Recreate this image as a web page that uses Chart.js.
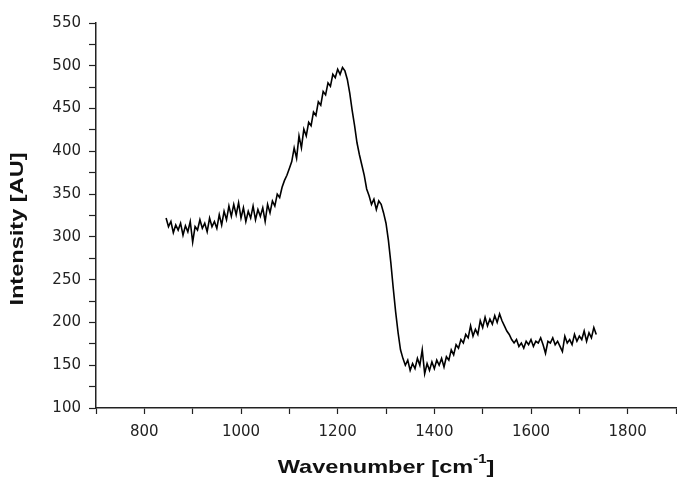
<!DOCTYPE html>
<html>
<head>
<meta charset="utf-8">
<script src="https://cdn.jsdelivr.net/npm/chart.js@4"></script>
<style>
  body { margin: 0; background: #fff; }
  #wrap { width: 677px; height: 484px; }
</style>
</head>
<body>
<div id="wrap"><canvas id="spectrum" width="677" height="484"></canvas></div>
<script>
// wavenumbers in cm-1
const wavenumbers = [
  845, 850, 855, 860, 865, 870, 875, 880, 885, 890, 895, 900, 905, 910, 915, 920, 925, 930, 935, 940,
  945, 950, 955, 960, 965, 970, 975, 980, 985, 990, 995, 1000, 1005, 1010, 1015, 1020, 1025, 1030, 1035, 1040,
  1045, 1050, 1055, 1060, 1065, 1070, 1075, 1080, 1085, 1090, 1095, 1100, 1105, 1110, 1115, 1120, 1125, 1130, 1135, 1140,
  1145, 1150, 1155, 1160, 1165, 1170, 1175, 1180, 1185, 1190, 1195, 1200, 1205, 1210, 1215, 1220, 1225, 1230, 1235, 1240,
  1245, 1250, 1255, 1260, 1265, 1270, 1275, 1280, 1285, 1290, 1295, 1300, 1305, 1310, 1315, 1320, 1325, 1330, 1335, 1340,
  1345, 1350, 1355, 1360, 1365, 1370, 1375, 1380, 1385, 1390, 1395, 1400, 1405, 1410, 1415, 1420, 1425, 1430, 1435, 1440,
  1445, 1450, 1455, 1460, 1465, 1470, 1475, 1480, 1485, 1490, 1495, 1500, 1505, 1510, 1515, 1520, 1525, 1530, 1535, 1540,
  1545, 1550, 1555, 1560, 1565, 1570, 1575, 1580, 1585, 1590, 1595, 1600, 1605, 1610, 1615, 1620, 1625, 1630, 1635, 1640,
  1645, 1650, 1655, 1660, 1665, 1670, 1675, 1680, 1685, 1690, 1695, 1700, 1705, 1710, 1715, 1720, 1725, 1730, 1735
];

// intensity [AU]
const intensity = [
  322, 312, 318, 305, 314, 308, 316, 302, 313, 306, 318, 294, 312, 308, 320, 310, 316, 306, 322, 312,
  318, 310, 326, 314, 330, 320, 336, 324, 338, 326, 340, 322, 334, 318, 330, 322, 336, 320, 332, 324,
  334, 318, 338, 328, 342, 336, 350, 346, 358, 366, 372, 380, 388, 404, 392, 418, 404, 426, 418, 434,
  430, 446, 442, 458, 454, 470, 466, 480, 476, 490, 486, 496, 490, 498, 494, 484, 468, 448, 430, 410,
  396, 384, 372, 356, 348, 338, 344, 332, 342, 338, 328, 316, 296, 270, 240, 212, 188, 168, 158, 150,
  156, 144, 152, 146, 158, 150, 168, 140, 152, 144, 154, 146, 156, 150, 158, 148, 160, 156, 168, 162,
  174, 170, 180, 176, 186, 182, 196, 184, 192, 186, 202, 194, 206, 196, 204, 198, 208, 200, 210, 202,
  196, 190, 186, 180, 176, 180, 172, 176, 170, 178, 174, 180, 172, 178, 176, 182, 174, 164, 178, 176,
  182, 174, 178, 172, 166, 184, 176, 180, 174, 186, 178, 184, 180, 190, 178, 188, 182, 194, 186
];

const xMin = 700, xMax = 1900, xMinorStep = 100, xLabelStep = 200;
const yMin = 100, yMax = 550, yMinorStep = 25, yLabelStep = 50;

const xTitle = 'Wavenumber [cm';
const xTitleSup = '-1';
const yTitle = 'Intensity [AU]';

const tickFont = { family: 'DejaVu Sans', size: 15 };
const inkColor = '#222';
const titleFont = 'bold 19px "Liberation Sans", Arial, sans-serif';
const supFont = 'bold 12px "Liberation Sans", Arial, sans-serif';
const stretch = 1.24; // the original lettering is wide

// axis titles drawn by hand so the superscript and width come out right
const axisTitles = {
  id: 'axisTitles',
  afterDraw(chart) {
    const ctx = chart.ctx;
    const area = chart.chartArea;
    ctx.save();
    ctx.fillStyle = '#111';
    ctx.textBaseline = 'alphabetic';
    ctx.textAlign = 'left';

    // x title with superscript
    ctx.font = titleFont;
    const w1 = ctx.measureText(xTitle).width;
    const w3 = ctx.measureText(']').width;
    ctx.font = supFont;
    const w2 = ctx.measureText(xTitleSup).width;
    const total = (w1 + w2 + w3) * stretch;
    ctx.save();
    ctx.translate((area.left + area.right) / 2 - total / 2, 473);
    ctx.scale(stretch, 1);
    ctx.font = titleFont;
    ctx.fillText(xTitle, 0, 0);
    ctx.font = supFont;
    ctx.fillText(xTitleSup, w1, -10);
    ctx.font = titleFont;
    ctx.fillText(']', w1 + w2, 0);
    ctx.restore();

    // y title, rotated
    ctx.translate(23, 229);
    ctx.rotate(-Math.PI / 2);
    ctx.scale(stretch, 1);
    ctx.font = titleFont;
    ctx.textAlign = 'center';
    ctx.fillText(yTitle, 0, 0);
    ctx.restore();
  }
};

new Chart(document.getElementById('spectrum'), {
  type: 'line',
  data: {
    datasets: [{
      data: wavenumbers.map((w, i) => ({ x: w, y: intensity[i] })),
      borderColor: '#000',
      borderWidth: 1.6,
      pointRadius: 0,
      tension: 0,
      fill: false
    }]
  },
  options: {
    responsive: false,
    animation: false,
    layout: { padding: { top: 23, right: 1, left: 0, bottom: 0 } },
    plugins: {
      legend: { display: false },
      tooltip: { enabled: false }
    },
    scales: {
      x: {
        type: 'linear',
        min: xMin,
        max: xMax,
        afterFit(scale) {
          scale.height = 76;
          scale.paddingLeft = 0;
          scale.paddingRight = 0;
        },
        border: { display: true, color: inkColor, width: 1.5 },
        grid: { drawOnChartArea: false, drawTicks: true, tickLength: 6, tickColor: inkColor, tickWidth: 1.2 },
        ticks: {
          stepSize: xMinorStep,
          autoSkip: false,
          maxRotation: 0,
          padding: 9,
          color: inkColor,
          font: tickFont,
          callback: v => (v % xLabelStep === 0 && v > xMin && v < xMax) ? v : ''
        }
      },
      y: {
        min: yMin,
        max: yMax,
        afterFit(scale) { scale.width = 96; },
        border: { display: true, color: inkColor, width: 1.5 },
        grid: { drawOnChartArea: false, drawTicks: true, tickLength: 7, tickColor: inkColor, tickWidth: 1.2 },
        ticks: {
          stepSize: yMinorStep,
          autoSkip: false,
          padding: 8,
          color: inkColor,
          font: tickFont,
          callback: v => (v % yLabelStep === 0) ? v : ''
        }
      }
    }
  },
  plugins: [axisTitles]
});
</script>
</body>
</html>
